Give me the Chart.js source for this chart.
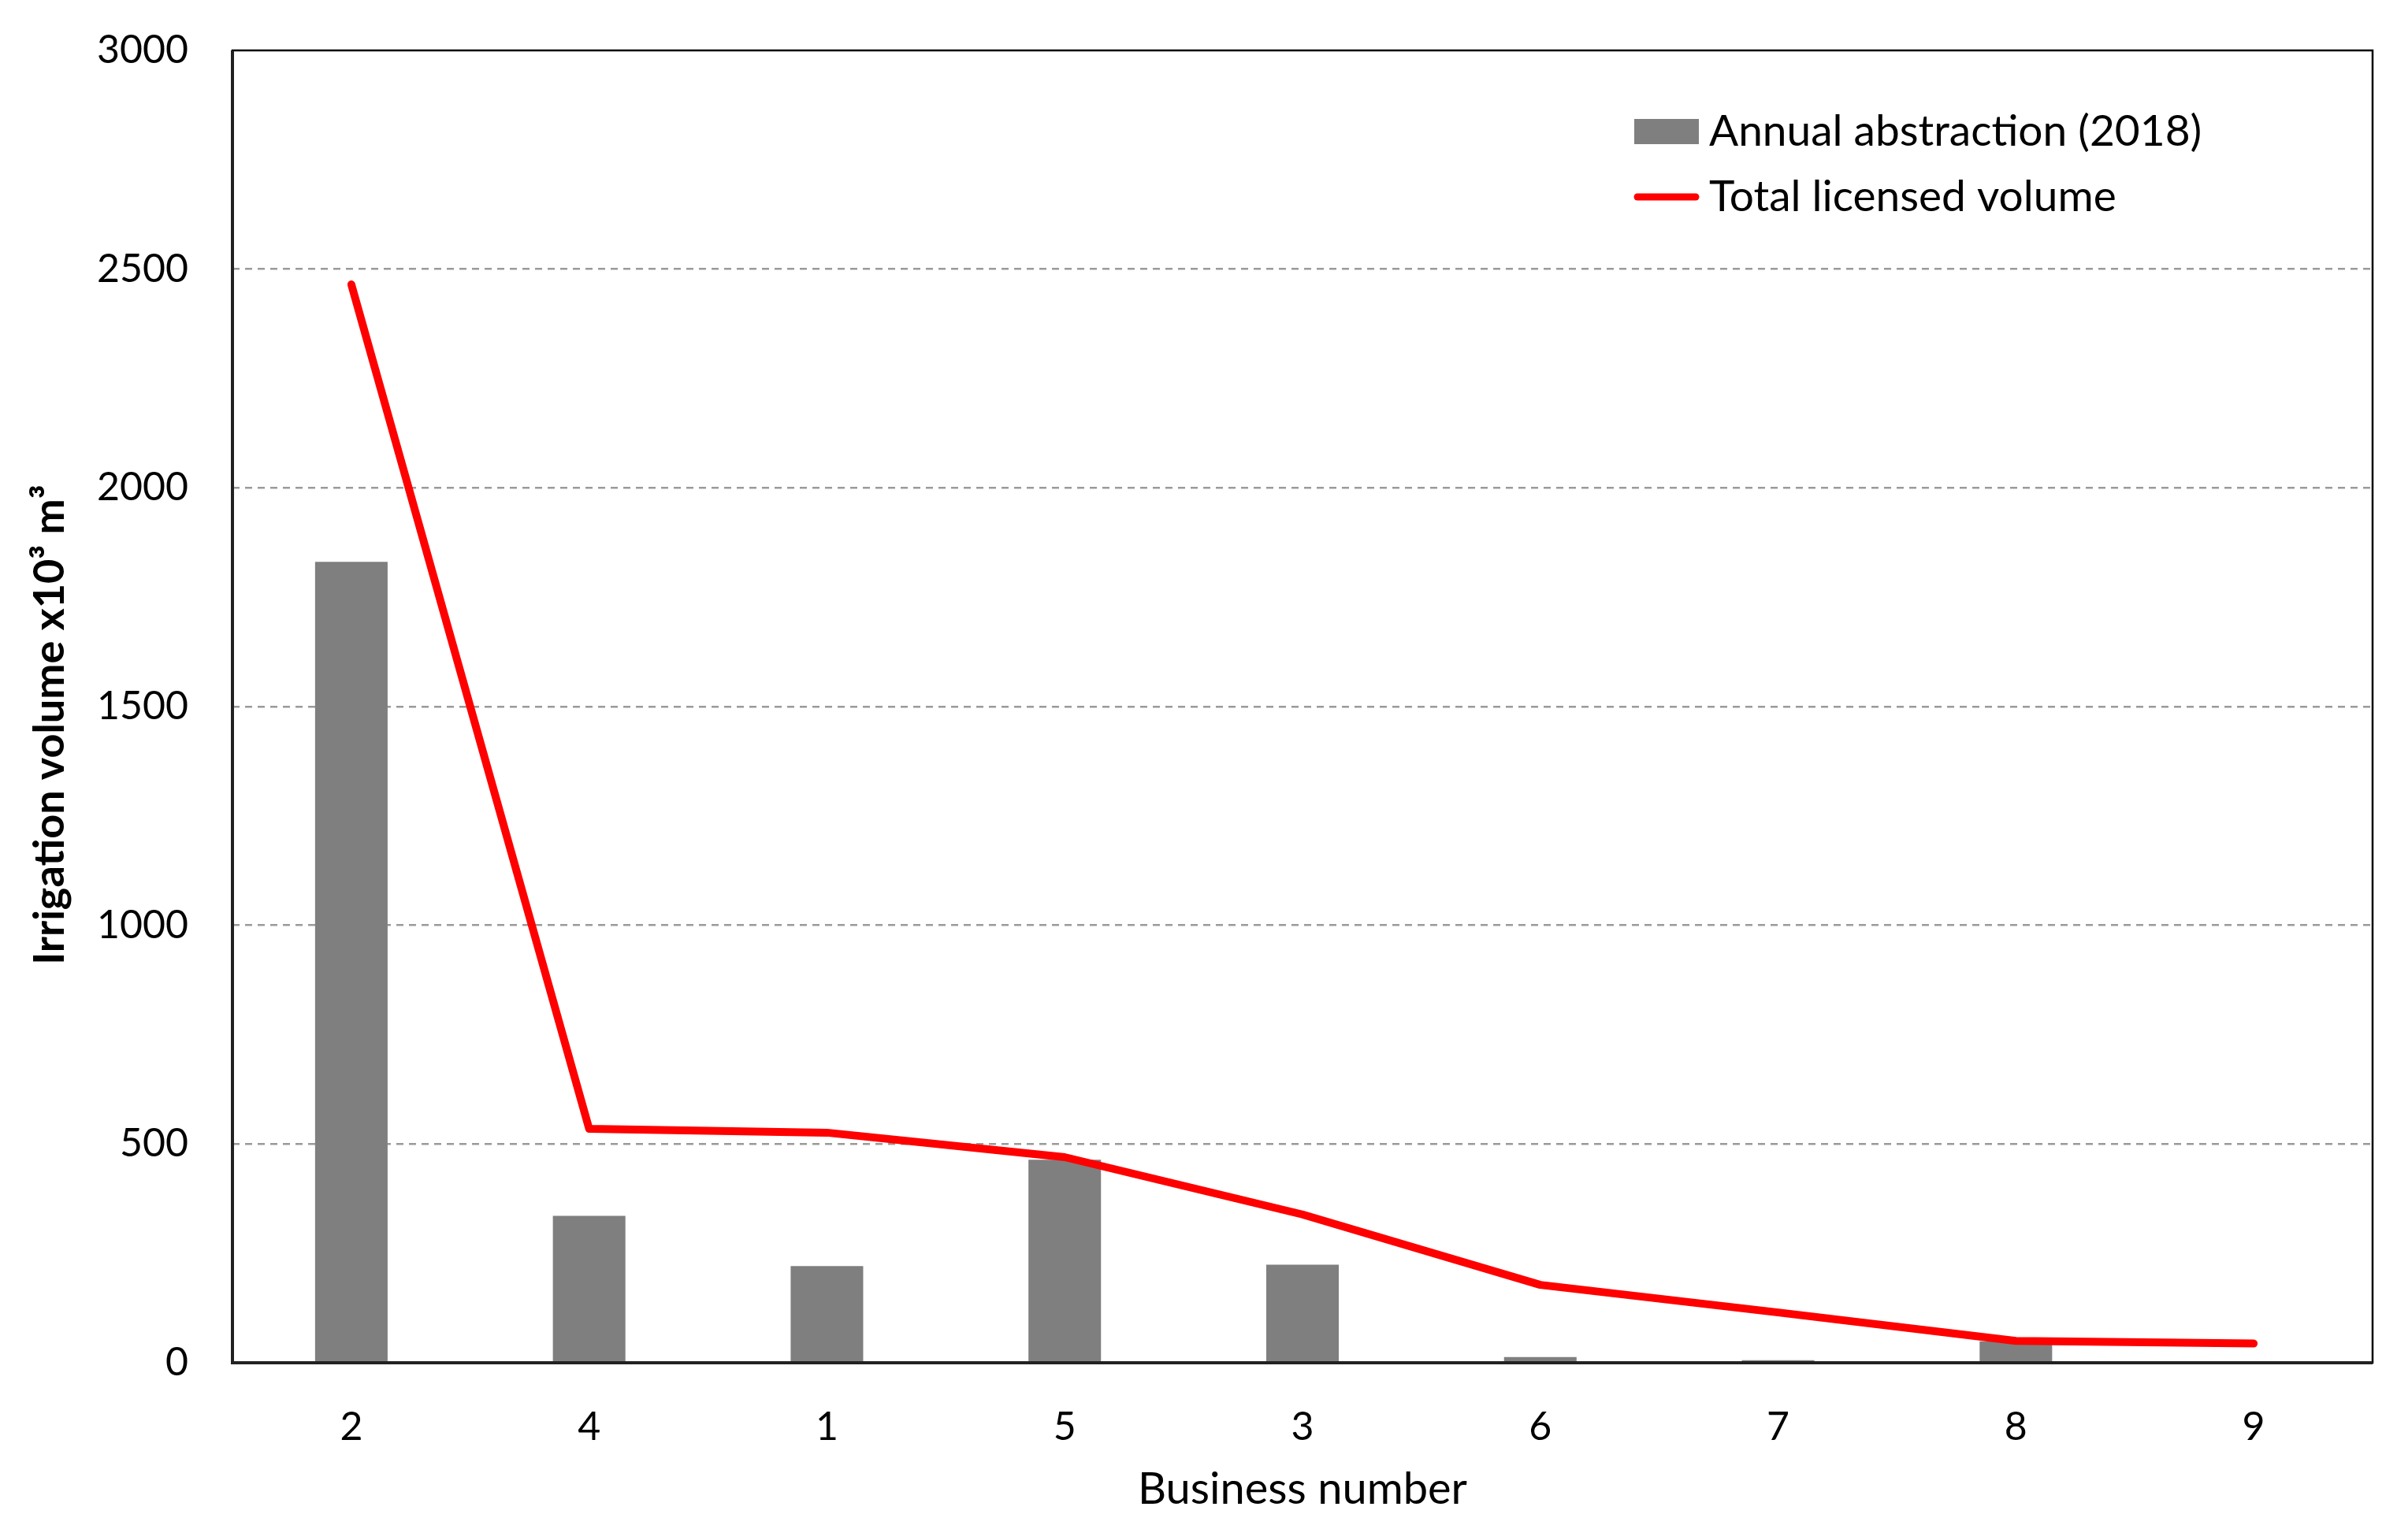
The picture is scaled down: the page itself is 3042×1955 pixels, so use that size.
<!DOCTYPE html>
<html>
<head>
<meta charset="utf-8">
<script src="https://cdn.jsdelivr.net/npm/chart.js@4/dist/chart.umd.min.js"></script>
<style>
  html, body { margin: 0; padding: 0; background: #fff; }
  #wrap { width: 3042px; height: 1955px; }
</style>
</head>
<body>
<div id="wrap"><canvas id="c" width="3042" height="1955"></canvas></div>
<script>
const categories = ['2', '4', '1', '5', '3', '6', '7', '8', '9'];
const annualAbstraction = [1831, 336, 221, 464, 224, 13, 6, 49, 0];
const totalLicensed = [2465, 535, 526, 470, 339, 178, 115, 50, 44];
const yTicks = [0, 500, 1000, 1500, 2000, 2500, 3000];
const labelBars = 'Annual abstraction (2018)';
const labelLine = 'Total licensed volume';
const yTitle = 'Irrigation volume x10\u00B3 m\u00B3';
const xTitle = 'Business number';

const FONT = 'Lato, "Open Sans", sans-serif';

const framePlugin = {
  id: 'frame',
  afterDraw(chart) {
    const { ctx, chartArea: a } = chart;
    ctx.save();
    ctx.strokeStyle = '#000';
    ctx.lineWidth = 2.5;
    ctx.strokeRect(a.left, a.top, a.right - a.left, a.bottom - a.top);
    ctx.lineWidth = 4;
    ctx.strokeStyle = '#222';
    ctx.beginPath();
    ctx.moveTo(a.left, a.top);
    ctx.lineTo(a.left, a.bottom);
    ctx.lineTo(a.right, a.bottom);
    ctx.stroke();
    // y axis title
    ctx.translate(64, 920);
    ctx.rotate(-Math.PI / 2);
    ctx.font = 'bold 54px ' + FONT;
    ctx.fillStyle = '#000';
    ctx.textAlign = 'center';
    ctx.textBaseline = 'middle';
    ctx.fillText(yTitle, 0, 0);
    ctx.restore();
  }
};

const legendPlugin = {
  id: 'customLegend',
  afterDraw(chart) {
    const { ctx } = chart;
    const ds = chart.data.datasets;
    ctx.save();
    ctx.font = '55px ' + FONT;
    ctx.fillStyle = '#000';
    ctx.textBaseline = 'middle';
    ctx.textAlign = 'left';
    const boxX = 2074, boxW = 82, textX = 2169;
    const y1 = 167, y2 = 250;
    ctx.fillStyle = ds[1].backgroundColor;
    ctx.fillRect(boxX, y1 - 16, boxW, 32);
    ctx.fillStyle = '#000';
    ctx.fillText(ds[1].label, textX, y1);
    ctx.strokeStyle = ds[0].borderColor;
    ctx.lineWidth = 9;
    ctx.lineCap = 'round';
    ctx.beginPath();
    ctx.moveTo(boxX + 4, y2);
    ctx.lineTo(boxX + boxW - 4, y2);
    ctx.stroke();
    ctx.fillText(ds[0].label, textX, y2);
    ctx.restore();
  }
};

new Chart(document.getElementById('c'), {
  data: {
    labels: categories,
    datasets: [
      {
        type: 'line',
        label: labelLine,
        data: totalLicensed,
        borderColor: '#ff0000',
        backgroundColor: '#ff0000',
        borderWidth: 10,
        pointRadius: 0,
        tension: 0,
        borderCapStyle: 'round',
        borderJoinStyle: 'round',
        order: 0
      },
      {
        type: 'bar',
        label: labelBars,
        data: annualAbstraction,
        backgroundColor: '#7f7f7f',
        borderWidth: 0,
        categoryPercentage: 1,
        barPercentage: 0.305,
        order: 1
      }
    ]
  },
  options: {
    responsive: false,
    animation: false,
    devicePixelRatio: 1,
    layout: { padding: { left: 36, right: 31, top: 64, bottom: 30 } },
    plugins: {
      legend: { display: false },
      tooltip: { enabled: false }
    },
    scales: {
      x: {
        type: 'category',
        offset: true,
        grid: { display: false, drawTicks: false },
        border: { display: false },
        ticks: {
          color: '#000',
          font: { family: FONT, size: 50 },
          padding: 52,
          maxRotation: 0
        },
        title: {
          display: true,
          text: xTitle,
          color: '#000',
          font: { family: FONT, size: 56 },
          padding: 0
        },
        afterFit(scale) { scale.height = 195; }
      },
      y: {
        min: 0,
        max: 3000,
        afterBuildTicks(scale) { scale.ticks = yTicks.map(v => ({ value: v })); },
        grid: {
          drawTicks: false,
          color: (c) => (c.tick && (c.tick.value === 0 || c.tick.value === 3000)) ? 'rgba(0,0,0,0)' : '#9a9a9a',
          lineWidth: 2.5
        },
        border: { display: false, dash: [9, 7] },
        ticks: {
          color: '#000',
          font: { family: FONT, size: 50 },
          padding: 56,
          callback: (v) => String(v)
        },
        title: { display: false },
        afterFit(scale) {
          scale.width = 259;
          scale.paddingTop = 30;
          scale.paddingBottom = 30;
        }
      }
    }
  },
  plugins: [framePlugin, legendPlugin]
});
</script>
</body>
</html>
